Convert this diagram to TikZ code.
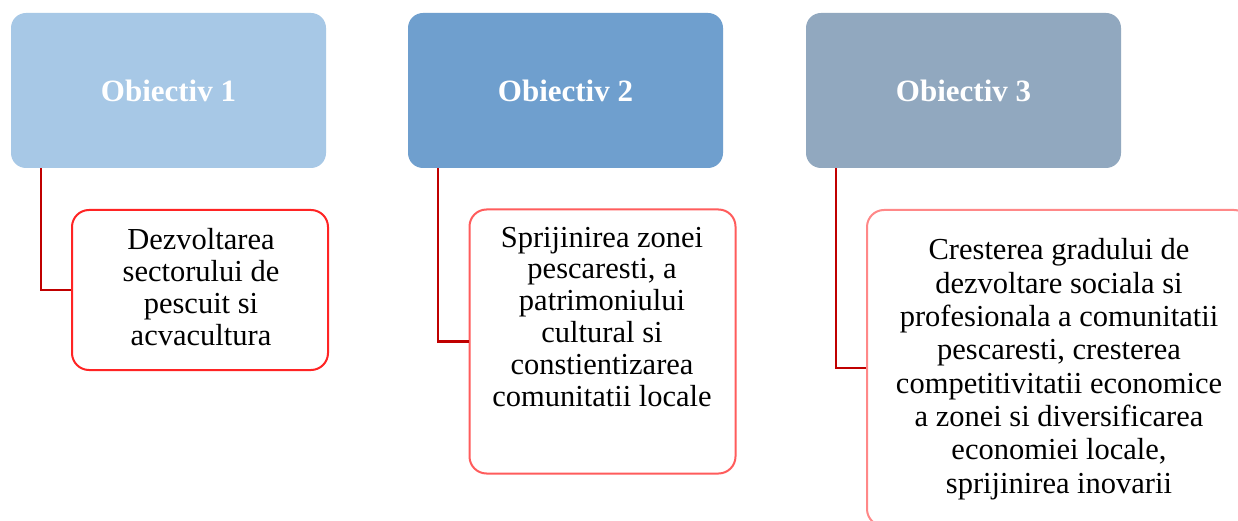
\documentclass[tikz,border=0pt]{standalone}
\usepackage{fontspec}
\setmainfont{Liberation Serif}
\usetikzlibrary{calc}
\definecolor{topA}{HTML}{A7C8E6}
\definecolor{topB}{HTML}{6F9FCE}
\definecolor{topC}{HTML}{91A8BF}
\definecolor{bordA}{HTML}{FF2424}
\definecolor{bordB}{HTML}{FF5C5C}
\definecolor{bordC}{HTML}{FF8888}
\definecolor{connred}{HTML}{C00000}
\tikzset{
  topbox/.style={rounded corners=15pt, minimum width=315pt, minimum height=155pt,
    inner sep=0pt, text=white, font=\fontsize{31}{33}\selectfont\bfseries},
  childbox/.style={rounded corners=17pt, fill=white, line width=2pt, inner sep=0pt},
  childtext/.style={align=center, inner sep=0pt, text=black},
  conn/.style={draw=connred, line width=2.2pt}
}
\begin{document}
\begin{tikzpicture}[x=1pt,y=1pt]
\useasboundingbox (0,0) rectangle (1238,-521);
\clip (0,0) rectangle (1238,-521);
\fill[white] (0,0) rectangle (1238,-521);
% top boxes
\node[topbox, fill=topA] (o1) at (168.5,-90.5) {Obiectiv 1};
\node[topbox, fill=topB] (o2) at (565.5,-90.5) {Obiectiv 2};
\node[topbox, fill=topC] (o3) at (963.5,-90.5) {Obiectiv 3};
% child boxes
\node[childbox, draw=bordA, minimum width=256pt, minimum height=160pt] (c1) at (200,-290) {};
\node[childbox, draw=bordB, minimum width=266pt, minimum height=264pt] (c2) at (602.5,-341.5) {};
\node[childbox, draw=bordC, minimum width=384pt, minimum height=316pt] (c3) at (1059,-368) {};
% texts
\node[childtext, font=\fontsize{30.5}{31.7}\selectfont, anchor=base] (t1) at (201,-345)
  {Dezvoltarea\\sectorului de\\pescuit si\\acvacultura};
\node[childtext, font=\fontsize{30.5}{31.8}\selectfont, anchor=base] (t2) at (602,-406)
  {Sprijinirea zonei\\pescaresti, a\\patrimoniului\\cultural si\\constientizarea\\comunitatii locale};
\node[childtext, font=\fontsize{30.5}{33.3}\selectfont, anchor=base] (t3) at (1059,-493)
  {Cresterea gradului de\\dezvoltare sociala si\\profesionala a comunitatii\\pescaresti, cresterea\\competitivitatii economice\\a zonei si diversificarea\\economiei locale,\\sprijinirea inovarii};
% connectors
\draw[conn] ($(o1.south west)+(30pt,0)$) |- (c1.west);
\draw[conn] ($(o2.south west)+(30pt,0)$) |- (c2.west);
\draw[conn] ($(o3.south west)+(30pt,0)$) |- (c3.west);
\end{tikzpicture}
\end{document}
